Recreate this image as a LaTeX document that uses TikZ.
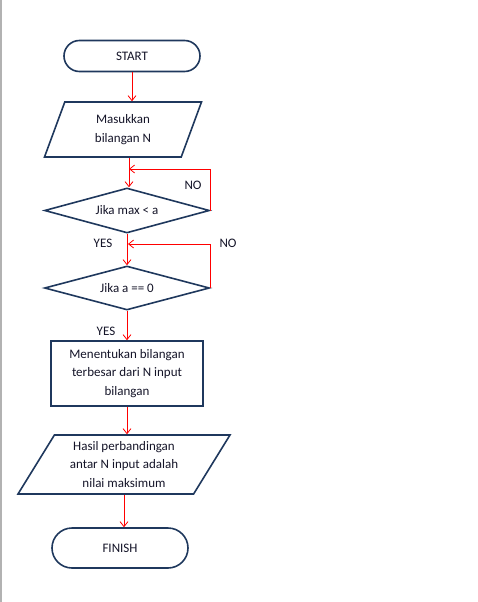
\documentclass[tikz,border=0pt]{standalone}
\usepackage{fontspec}
\setmainfont{Carlito}
\usetikzlibrary{shapes.geometric,shapes.misc,arrows.meta}
\definecolor{navy}{RGB}{31,56,93}
\definecolor{inktext}{RGB}{20,20,40}

\begin{document}
\begin{tikzpicture}[x=1pt,y=-1pt,inner sep=2pt,
  every node/.style={font=\fontsize{13}{18.5}\selectfont,text=inktext,align=center},
  term/.style={rounded rectangle,draw=navy,line width=1.6pt,minimum width=140pt},
  io/.style={trapezium,trapezium stretches body,draw=navy,line width=1.6pt},
  decision/.style={diamond,aspect=3.6,draw=navy,line width=1.6pt,inner sep=1pt,minimum width=165pt,minimum height=45pt},
  proc/.style={rectangle,draw=navy,line width=1.6pt,minimum width=152pt,minimum height=65pt},
  flow/.style={red,line width=0.8pt,-{Straight Barb[length=5pt,width=8pt]}}]
  \useasboundingbox (0,0) rectangle (477,602);
  \draw[black!30,line width=1.5pt](0.75,0)--(0.75,602);

  \node[term,minimum height=31pt] (start) at (132,56) {START};
  \node[io,trapezium left angle=59,trapezium right angle=121,minimum width=157pt,minimum height=55pt] (input) at (123,129.5) {Masukkan\\bilangan N};
  \node[decision] (cekmax) at (127,210.5) {Jika max < a};
  \node[decision,minimum height=44pt] (cekzero) at (127,288) {Jika a == 0};
  \node[proc] (cari) at (127,373.5) {Menentukan bilangan\\terbesar dari N input\\bilangan};
  \node[io,trapezium left angle=54,trapezium right angle=126,minimum width=212pt,minimum height=59pt] (hasil) at (124,464.5) {Hasil perbandingan\\antar N input adalah\\nilai maksimum};
  \node[term,minimum height=40pt] (finish) at (120,548) {FINISH};

  \coordinate (back1) at (129,169);
  \coordinate (back2) at (128,244);
  \node (no1) at (193,185) {NO};
  \node (no2) at (228,243) {NO};
  \node (yes1) at (103,243) {YES};
  \node (yes2) at (106,331) {YES};

  \draw[flow](start.south)--(start.south |- input.north);
  \draw[flow]([xshift=2pt]cekmax.north |- input.south)--([xshift=2pt]cekmax.north);
  \draw[flow](cekmax.east)|-(back1);
  \draw[flow](cekmax.south)--(cekzero.north);
  \draw[flow](cekzero.east)|-(back2);
  \draw[flow](cekzero.south)--(cari.north);
  \draw[flow](cari.south)--(cari.south |- hasil.north);
  \draw[flow](hasil.south)--(hasil.south |- finish.north);
\end{tikzpicture}
\end{document}
